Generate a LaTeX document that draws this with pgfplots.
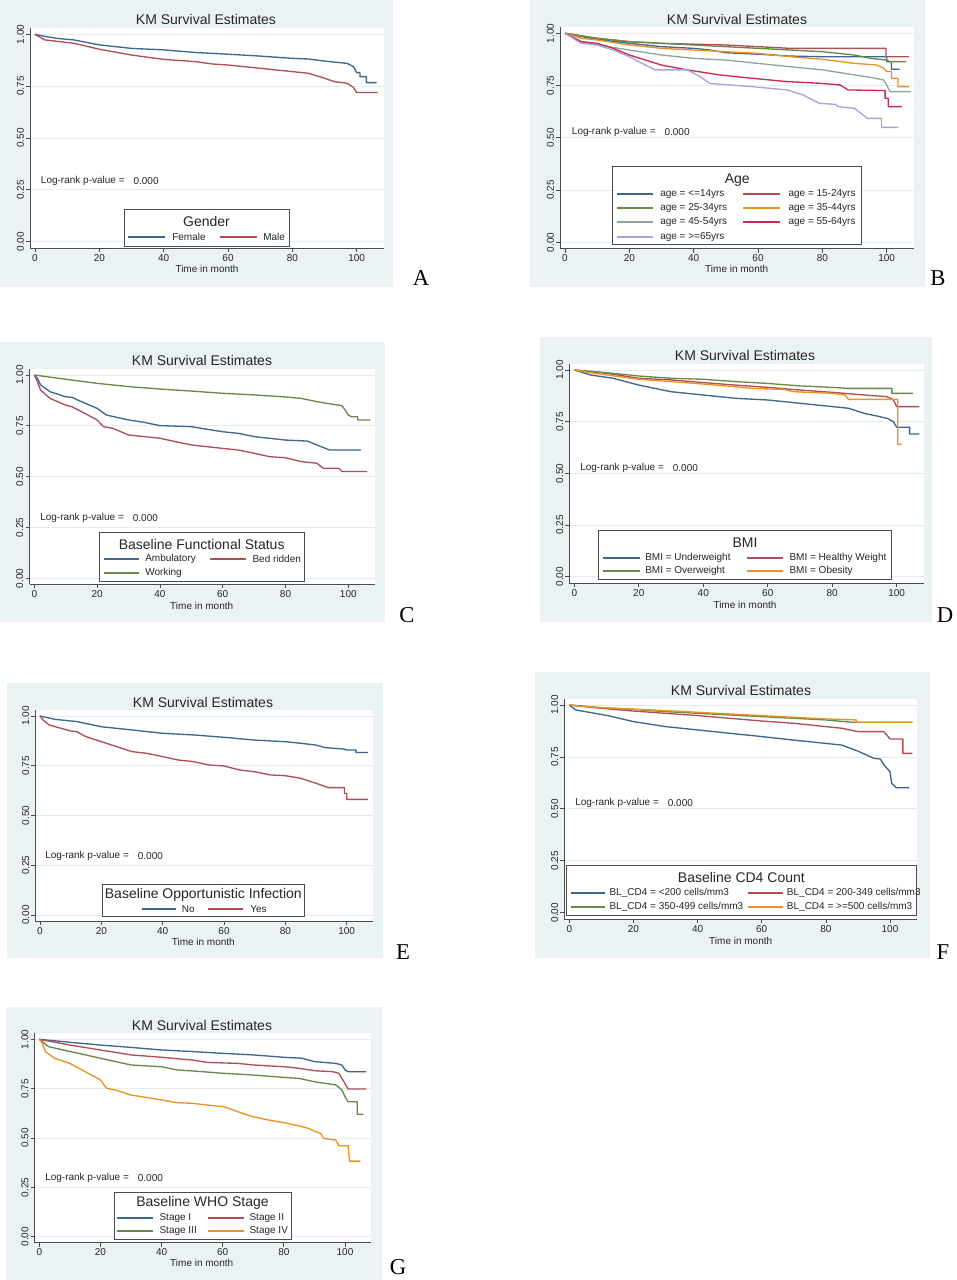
\documentclass[border=0pt]{standalone}
\usepackage{fontspec}
\setmainfont{Liberation Sans}
\newfontfamily\serifl{Liberation Serif}
\usepackage{pgfplots}
\pgfplotsset{compat=1.18}

\definecolor{bgc}{RGB}{234,242,243}
\definecolor{gridc}{RGB}{228,236,238}
\definecolor{snavy}{RGB}{62,102,142}
\definecolor{smaroon}{RGB}{176,78,86}
\definecolor{sgreen}{RGB}{106,136,72}
\definecolor{sorange}{RGB}{234,146,34}
\definecolor{steal}{RGB}{138,168,158}
\definecolor{scran}{RGB}{206,40,80}
\definecolor{slav}{RGB}{168,162,222}

\newcommand\fA{\fontsize{7.5}{9}\selectfont}
\newcommand\fT{\fontsize{10.5}{12}\selectfont}
\newcommand\fL{\serifl\fontsize{17}{20}\selectfont}

% X0 (px of x=0), X100 (px of x=100), Y1 (px of y=1), Y0 (px of y=0)
\newcommand\setpanel[4]{%
 \pgfmathsetmacro\pu{(#2-#1)/100}%
 \pgfmathsetmacro\pv{#4-#3}%
 \pgfmathsetmacro\pL{(#1-1.5*\pu)*0.75}%
 \pgfmathsetmacro\pB{(#4+0.03*\pv)*0.75}%
 \pgfmathsetmacro\pW{110*\pu*0.75}%
 \pgfmathsetmacro\pH{1.06*\pv*0.75}%
}

\pgfplotsset{kmaxis/.style={
  at={(\pL pt,-\pB pt)}, anchor=south west,
  scale only axis, width=\pW pt, height=\pH pt,
  xmin=-1.5, xmax=108.5, ymin=-0.03, ymax=1.03,
  axis x line=bottom, axis y line=left,
  axis line style={black!70, line width=0.55pt, -},
  axis background/.style={fill=white},
  xtick={0,20,40,60,80,100}, ytick={0,0.25,0.5,0.75,1},
  tick align=outside, major tick length=3pt,
  tick style={black!70, line width=0.55pt},
  ymajorgrids, grid style={gridc, line width=0.6pt},
  /pgf/number format/assume math mode=true,
  ticklabel style={font=\fA, text=black!85},
  yticklabel style={rotate=90, anchor=south, inner sep=1.5pt,
    /pgf/number format/fixed, /pgf/number format/fixed zerofill,
    /pgf/number format/precision=2},
  xticklabel style={inner sep=1.5pt},
  every axis plot/.append style={line width=1pt, line join=round},
}}

\newcommand\legbox[6]{% x1 y1 x2 y2 title titley
  \draw[fill=white, draw=black!70, line width=0.55pt] (#1,#2) rectangle (#3,#4);
  \node[font=\fT, text=black!85, inner sep=0pt] at ({(#1+#3)/2},#6) {#5};
}
\newcommand\legline[4]{% color xa xb y
  \draw[draw=#1, line width=1.5pt] (#2,#4) -- (#3,#4);
}
\newcommand\legtext[3]{% xt y text
  \node[font=\fA, text=black!85, anchor=west, inner sep=0pt] at (#1,#2) {#3};
}
\newcommand\paneltext[6]{% titlex titley xlabx xlaby logx logy
  \node[font=\fT, text=black!85, inner sep=0pt] at (#1,#2) {KM Survival Estimates};
  \node[font=\fA, text=black!85, inner sep=0pt] at (#3,#4) {Time in month};
  \node[font=\fA, text=black!85, anchor=west, inner sep=0pt] at (#5,#6) {Log-rank p-value =};
  \node[font=\fA, text=black!85, anchor=west, inner sep=0pt] at ({#5+92.6},#6) {0.000};
}

\begin{document}
\begin{tikzpicture}
\begin{scope}[x=0.75pt,y=-0.75pt]
\useasboundingbox (0,0) rectangle (956,1280);
\fill[white] (0,0) rectangle (956,1280);
\fill[bgc] (0,0) rectangle (393,287);
\fill[bgc] (530,0) rectangle (925,287);
\fill[bgc] (0,342) rectangle (385,622);
\fill[bgc] (540,337) rectangle (932,622);
\fill[bgc] (7,683) rectangle (383,958);
\fill[bgc] (535,672) rectangle (930,958);
\fill[bgc] (6,1007) rectangle (382,1280);
\end{scope}

% ---------------- A: Gender
\setpanel{35}{356.7}{34.3}{241.7}
\begin{axis}[kmaxis]
\addplot[snavy] coordinates {(0,1)(3,0.99)(7,0.98)(12,0.973)(20,0.949)(30,0.932)(40,0.925)(50,0.912)(60,0.904)(70,0.895)(80,0.884)(85,0.881)(90,0.871)(95,0.863)(97,0.860)(99,0.844)(100,0.815)(101,0.815)(101,0.796)(103,0.796)(103,0.767)(106.2,0.767)};
\addplot[smaroon] coordinates {(0,1)(3,0.973)(12,0.957)(20,0.928)(30,0.900)(40,0.879)(50,0.868)(55,0.857)(60,0.852)(70,0.836)(80,0.820)(85,0.812)(90,0.788)(93,0.772)(97,0.764)(99,0.744)(100,0.719)(106.5,0.719)};
\end{axis}

% ---------------- B: Age
\setpanel{565}{886.7}{33.3}{242.3}
\begin{axis}[kmaxis]
\addplot[snavy] coordinates {(0,1)(5,0.985)(10,0.971)(20,0.952)(30,0.936)(40,0.928)(45,0.920)(50,0.907)(60,0.900)(70,0.891)(80,0.888)(100,0.888)(100,0.864)(101.5,0.864)(101.5,0.828)(104,0.828)};
\addplot[smaroon] coordinates {(0,1)(10,0.976)(20,0.960)(30,0.952)(50,0.944)(60,0.936)(70,0.928)(99.8,0.928)(99.8,0.888)(107,0.888)};
\addplot[sgreen] coordinates {(0,1)(10,0.976)(20,0.960)(30,0.952)(40,0.944)(50,0.936)(60,0.928)(70,0.920)(80,0.912)(90,0.896)(95,0.880)(100,0.872)(101,0.864)(106,0.864)};
\addplot[sorange] coordinates {(0,1)(5,0.976)(10,0.968)(20,0.944)(30,0.928)(40,0.920)(50,0.912)(60,0.904)(70,0.888)(80,0.876)(90,0.856)(97,0.848)(99,0.833)(100,0.817)(101.5,0.817)(101.5,0.785)(103.5,0.785)(103.5,0.745)(107,0.745)};
\addplot[steal] coordinates {(0,1)(5,0.960)(10,0.944)(20,0.920)(30,0.896)(40,0.880)(50,0.872)(60,0.856)(70,0.840)(80,0.825)(90,0.801)(95,0.789)(99,0.777)(100,0.753)(101,0.721)(107.5,0.721)};
\addplot[scran] coordinates {(0,1)(5,0.960)(10,0.952)(15,0.928)(20,0.896)(30,0.848)(38,0.825)(48,0.801)(58,0.785)(69,0.769)(79,0.761)(85.5,0.753)(88,0.729)(99.5,0.726)(99.5,0.689)(100.5,0.689)(100.5,0.649)(104.7,0.649)};
\addplot[slav] coordinates {(0,1)(5,0.952)(10,0.944)(15,0.920)(20,0.888)(25,0.848)(28,0.825)(38,0.825)(42,0.793)(45,0.760)(58,0.745)(69,0.729)(74,0.705)(79,0.665)(84,0.660)(85,0.649)(90,0.641)(92,0.617)(94,0.593)(98.4,0.593)(98.4,0.550)(103.6,0.550)};
\end{axis}

% ---------------- C: Functional status
\setpanel{34.3}{348.3}{375}{578.3}
\begin{axis}[kmaxis]
\addplot[snavy] coordinates {(0,1)(1,0.984)(2,0.951)(5,0.918)(10,0.893)(12,0.890)(15,0.869)(20,0.836)(23,0.803)(30,0.779)(35,0.767)(40,0.751)(50,0.746)(55,0.733)(60,0.721)(65,0.713)(70,0.697)(80,0.680)(87,0.675)(90,0.656)(94,0.631)(104,0.631)};
\addplot[smaroon] coordinates {(0,1)(1,0.967)(2,0.926)(5,0.885)(10,0.852)(12,0.844)(15,0.820)(20,0.779)(22,0.746)(25,0.738)(30,0.705)(40,0.689)(45,0.672)(50,0.656)(60,0.639)(65,0.631)(70,0.615)(75,0.598)(80,0.593)(85,0.574)(90,0.566)(92,0.541)(97,0.541)(98,0.525)(106,0.525)};
\addplot[sgreen] coordinates {(0,1)(10,0.979)(20,0.959)(30,0.943)(40,0.931)(50,0.921)(60,0.910)(70,0.902)(80,0.892)(85,0.885)(90,0.869)(95,0.856)(98,0.849)(99,0.828)(100,0.803)(101,0.795)(103,0.795)(103,0.779)(107,0.779)};
\end{axis}

% ---------------- D: BMI
\setpanel{574.3}{896.7}{370}{576.7}
\begin{axis}[kmaxis]
\addplot[snavy] coordinates {(0,1)(5,0.976)(12,0.960)(20,0.927)(30,0.895)(40,0.879)(50,0.863)(60,0.855)(70,0.839)(80,0.823)(85,0.815)(90,0.790)(94,0.777)(97,0.766)(99,0.750)(100,0.723)(104,0.723)(104,0.690)(107,0.690)};
\addplot[smaroon] coordinates {(0,1)(10,0.984)(20,0.960)(30,0.952)(40,0.939)(50,0.927)(60,0.916)(70,0.903)(80,0.892)(90,0.879)(97,0.871)(99,0.855)(100,0.823)(107,0.823)};
\addplot[sgreen] coordinates {(0,1)(10,0.987)(20,0.971)(30,0.960)(40,0.955)(50,0.944)(60,0.935)(70,0.923)(80,0.916)(85,0.911)(98.5,0.911)(98.5,0.887)(105,0.887)};
\addplot[sorange] coordinates {(0,1)(5,0.987)(10,0.976)(20,0.955)(30,0.944)(40,0.932)(50,0.919)(55,0.911)(65,0.906)(68,0.895)(80,0.887)(84,0.879)(85,0.858)(100.3,0.858)(100.3,0.640)(101.5,0.640)};
\end{axis}

% ---------------- E: Opportunistic infection
\setpanel{40}{346.7}{716}{915}
\begin{axis}[kmaxis]
\addplot[snavy] coordinates {(0,1)(5,0.983)(12,0.972)(20,0.946)(30,0.930)(40,0.913)(50,0.905)(60,0.893)(70,0.879)(80,0.871)(85,0.863)(90,0.854)(93,0.841)(99,0.834)(100,0.829)(103,0.829)(103,0.817)(107,0.817)};
\addplot[smaroon] coordinates {(0,1)(1,0.980)(3,0.955)(5,0.946)(10,0.925)(12,0.921)(15,0.896)(20,0.871)(25,0.846)(30,0.821)(35,0.812)(40,0.796)(45,0.779)(50,0.771)(55,0.754)(60,0.749)(65,0.729)(70,0.720)(75,0.704)(80,0.700)(85,0.687)(90,0.662)(94,0.640)(99.3,0.640)(99.3,0.611)(100,0.611)(100,0.581)(107,0.581)};
\end{axis}

% ---------------- F: CD4
\setpanel{569.3}{890}{705}{912.7}
\begin{axis}[kmaxis]
\addplot[snavy] coordinates {(0,1)(2,0.976)(5,0.968)(12,0.949)(20,0.920)(30,0.896)(40,0.880)(50,0.864)(60,0.848)(70,0.831)(75,0.823)(80,0.815)(85,0.807)(90,0.778)(95,0.743)(97,0.740)(98,0.714)(100,0.679)(100.5,0.623)(102,0.602)(106,0.602)};
\addplot[smaroon] coordinates {(0,1)(10,0.984)(20,0.971)(30,0.960)(40,0.949)(50,0.936)(60,0.923)(70,0.912)(80,0.896)(85,0.888)(90,0.872)(98,0.872)(99,0.856)(100,0.836)(104,0.836)(104,0.767)(107,0.767)};
\addplot[sgreen] coordinates {(0,1)(10,0.987)(20,0.979)(30,0.968)(40,0.960)(50,0.952)(60,0.944)(70,0.936)(80,0.928)(88,0.917)(107,0.917)};
\addplot[sorange] coordinates {(0,1)(10,0.987)(20,0.980)(30,0.973)(40,0.965)(50,0.957)(60,0.949)(70,0.941)(80,0.933)(89.5,0.928)(89.5,0.917)(107,0.917)};
\end{axis}

% ---------------- G: WHO stage
\setpanel{39.3}{345}{1039.3}{1236.7}
\begin{axis}[kmaxis]
\addplot[snavy] coordinates {(0,1)(10,0.985)(20,0.971)(30,0.959)(40,0.946)(50,0.938)(60,0.929)(70,0.921)(80,0.909)(86,0.904)(90,0.887)(97,0.878)(99,0.870)(100,0.845)(101,0.836)(107,0.836)};
\addplot[smaroon] coordinates {(0,1)(10,0.971)(20,0.946)(30,0.921)(40,0.909)(50,0.895)(55,0.883)(65,0.878)(70,0.870)(80,0.861)(85,0.853)(90,0.841)(96,0.836)(98,0.828)(99,0.802)(100,0.777)(101,0.748)(107,0.748)};
\addplot[sgreen] coordinates {(0,1)(3,0.963)(10,0.938)(12,0.932)(20,0.904)(25,0.887)(30,0.870)(40,0.861)(45,0.845)(50,0.840)(60,0.828)(70,0.819)(80,0.807)(85,0.802)(90,0.785)(97,0.769)(99,0.743)(100,0.709)(101,0.684)(104,0.684)(104,0.620)(106,0.620)};
\addplot[sorange] coordinates {(0,1)(1,0.980)(2,0.938)(5,0.904)(10,0.878)(15,0.836)(20,0.794)(22,0.752)(25,0.743)(30,0.718)(40,0.693)(45,0.679)(50,0.676)(55,0.667)(60,0.659)(62,0.650)(65,0.633)(68,0.617)(70,0.608)(75,0.591)(80,0.578)(85,0.561)(88,0.549)(90,0.535)(92,0.524)(93,0.498)(97,0.490)(98,0.461)(101,0.461)(101.5,0.383)(105,0.383)};
\end{axis}

\begin{scope}[x=0.75pt,y=-0.75pt]
% legend boxes first
\legbox{124}{209}{289}{246}{Gender}{221}
\legbox{612.7}{166.7}{861.7}{244}{Age}{180}
\legbox{99.3}{532.7}{304}{581}{Baseline Functional Status}{544.3}
\legbox{598.3}{530}{891.7}{579.3}{BMI}{542.3}
\legbox{102.7}{884}{304}{916.7}{Baseline Opportunistic Infection}{895}
\legbox{566}{865.7}{916.7}{915.7}{Baseline CD4 Count}{877.7}
\legbox{114}{1192.3}{291}{1239.3}{Baseline WHO Stage}{1203.3}
% legend key lines
\legline{snavy}{128}{165}{237}
\legline{smaroon}{220}{257}{237}
\legline{snavy}{616.7}{653.3}{194}
\legline{smaroon}{743.3}{780}{194}
\legline{sgreen}{616.7}{653.3}{208}
\legline{sorange}{743.3}{780}{208}
\legline{steal}{616.7}{653.3}{222}
\legline{scran}{743.3}{780}{222}
\legline{slav}{616.7}{653.3}{237}
\legline{snavy}{104}{139.3}{559}
\legline{smaroon}{210}{246}{559}
\legline{sgreen}{104}{139.3}{573}
\legline{snavy}{602.7}{640}{558}
\legline{smaroon}{746.7}{783.3}{558}
\legline{sgreen}{602.7}{640}{571}
\legline{sorange}{746.7}{783.3}{571}
\legline{snavy}{141.7}{176}{909}
\legline{smaroon}{208.3}{243.3}{909}
\legline{snavy}{570.7}{605}{893}
\legline{smaroon}{748.3}{783.3}{893}
\legline{sgreen}{570.7}{605}{907}
\legline{sorange}{748.3}{783.3}{907}
\legline{snavy}{117.3}{152.7}{1218}
\legline{smaroon}{208.3}{244.3}{1218}
\legline{sgreen}{117.3}{152.7}{1231}
\legline{sorange}{208.3}{244.3}{1231}
% texts
\paneltext{206}{19}{207}{269}{40.7}{181}
\legtext{172}{237}{Female}
\legtext{263}{237}{Male}
\node[font=\fL, inner sep=0pt] at (421,278) {A};
\paneltext{737}{19}{736.7}{269.3}{571.7}{131.7}
\legtext{660}{194}{age = <=14yrs}
\legtext{788.3}{194}{age = 15-24yrs}
\legtext{660}{208.3}{age = 25-34yrs}
\legtext{788.3}{208.3}{age = 35-44yrs}
\legtext{660}{221.7}{age = 45-54yrs}
\legtext{788.3}{221.7}{age = 55-64yrs}
\legtext{660}{236.7}{age = >=65yrs}
\node[font=\fL, inner sep=0pt] at (938,278) {B};
\paneltext{202}{360}{201.7}{605.7}{40}{518.3}
\legtext{145}{559}{Ambulatory}
\legtext{252.3}{559}{Bed ridden}
\legtext{145}{573.3}{Working}
\node[font=\fL, inner sep=0pt] at (407,615) {C};
\paneltext{745}{355}{745}{605}{580}{467.7}
\legtext{645}{557.7}{BMI = Underweight}
\legtext{789.3}{557.7}{BMI = Healthy Weight}
\legtext{645}{570.7}{BMI = Overweight}
\legtext{789.3}{570.7}{BMI = Obesity}
\node[font=\fL, inner sep=0pt] at (945,615) {D};
\paneltext{203}{702}{203.3}{941.7}{45}{856}
\legtext{181.7}{909.3}{No}
\legtext{250}{909.3}{Yes}
\node[font=\fL, inner sep=0pt] at (403,952) {E};
\paneltext{741}{690}{740.7}{941}{575}{802.7}
\legtext{609.3}{893.3}{BL\_CD4 = <200 cells/mm3}
\legtext{786.7}{893.3}{BL\_CD4 = 200-349 cells/mm3}
\legtext{609.3}{907.3}{BL\_CD4 = 350-499 cells/mm3}
\legtext{786.7}{907.3}{BL\_CD4 = >=500 cells/mm3}
\node[font=\fL, inner sep=0pt] at (943,952) {F};
\paneltext{202}{1025}{201.7}{1263.3}{45}{1177.7}
\legtext{159.3}{1218.3}{Stage I}
\legtext{249.3}{1218.3}{Stage II}
\legtext{159.3}{1231}{Stage III}
\legtext{249.3}{1231}{Stage IV}
\node[font=\fL, inner sep=0pt] at (398,1267) {G};
\end{scope}
\end{tikzpicture}
\end{document}
